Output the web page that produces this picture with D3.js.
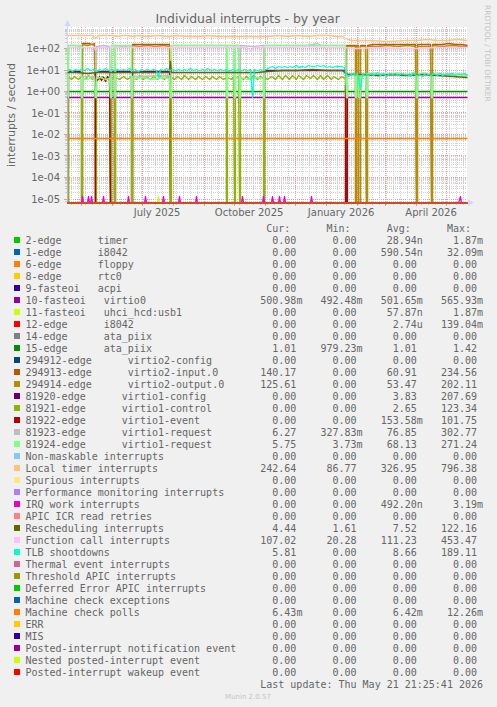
<!DOCTYPE html>
<html><head><meta charset="utf-8">
<script src="https://cdn.jsdelivr.net/npm/d3@7"></script>
<style>
html,body{margin:0;padding:0;background:#F0F0F0;}
svg{display:block;}
.mono{font-family:"DejaVu Sans Mono",monospace;font-size:10px;fill:#666;white-space:pre;}
.sans{font-family:"DejaVu Sans",sans-serif;fill:#666;}
</style></head><body>
<svg id="chart" width="497" height="707"></svg>
<script>
// ---------------- DATA ----------------
const seriesNames = [
"2-edge      timer","1-edge      i8042","6-edge      floppy","8-edge      rtc0","9-fasteoi   acpi",
"10-fasteoi   virtio0","11-fasteoi   uhci_hcd:usb1","12-edge      i8042","14-edge      ata_piix","15-edge      ata_piix",
"294912-edge      virtio2-config","294913-edge      virtio2-input.0","294914-edge      virtio2-output.0",
"81920-edge      virtio1-config","81921-edge      virtio1-control","81922-edge      virtio1-event",
"81923-edge      virtio1-request","81924-edge      virtio1-request",
"Non-maskable interrupts","Local timer interrupts","Spurious interrupts","Performance monitoring interrupts",
"IRQ work interrupts","APIC ICR read retries","Rescheduling interrupts","Function call interrupts","TLB shootdowns",
"Thermal event interrupts","Threshold APIC interrupts","Deferred Error APIC interrupts","Machine check exceptions",
"Machine check polls","ERR","MIS","Posted-interrupt notification event","Nested posted-interrupt event","Posted-interrupt wakeup event"];
const seriesColors = ["#00CC00","#0066B3","#FF8000","#FFCC00","#330099","#990099","#CCFF00","#FF0000","#808080","#008F00",
"#00487D","#B35A00","#B38F00","#6B006B","#8FB300","#B30000","#BEBEBE","#80FF80","#80C9FF","#FFC080","#FFE680","#AA80FF",
"#EE00CC","#FF8080","#666600","#FFBFFF","#00FFCC","#CC6699","#999900","#00CC00","#0066B3","#FF8000","#FFCC00","#330099",
"#990099","#CCFF00","#FF0000"];
const curValues = ["0.00","0.00","0.00","0.00","0.00","500.98m","0.00","0.00","0.00","1.01","0.00","140.17","125.61","0.00","0.00","0.00","6.27","5.75","0.00","242.64","0.00","0.00","0.00","0.00","4.44","107.02","5.81","0.00","0.00","0.00","0.00","6.43m","0.00","0.00","0.00","0.00","0.00"];
const minValues = ["0.00","0.00","0.00","0.00","0.00","492.48m","0.00","0.00","0.00","979.23m","0.00","0.00","0.00","0.00","0.00","0.00","327.83m","3.73m","0.00","86.77","0.00","0.00","0.00","0.00","1.61","20.28","0.00","0.00","0.00","0.00","0.00","0.00","0.00","0.00","0.00","0.00","0.00"];
const avgValues = ["28.94n","590.54n","0.00","0.00","0.00","501.65m","57.87n","2.74u","0.00","1.01","0.00","60.91","53.47","3.83","2.65","153.58m","76.85","68.13","0.00","326.95","0.00","0.00","492.20n","0.00","7.52","111.23","8.66","0.00","0.00","0.00","0.00","6.42m","0.00","0.00","0.00","0.00","0.00"];
const maxValues = ["1.87m","32.09m","0.00","0.00","0.00","565.93m","1.87m","139.04m","0.00","1.42","0.00","234.56","202.11","207.69","123.34","101.75","302.77","271.24","0.00","796.38","0.00","0.00","3.19m","0.00","122.16","453.47","189.11","0.00","0.00","0.00","0.00","12.26m","0.00","0.00","0.00","0.00","0.00"];

const yTickValues = [1e2,1e1,1e0,1e-1,1e-2,1e-3,1e-4,1e-5];
const yTickLabels = ["1e+02","1e+01","1e+00","1e-01","1e-02","1e-03","1e-04","1e-05"];
const xTickDates = ["2025-07-01","2025-10-01","2026-01-01","2026-04-01"];
const xTickLabels = ["July 2025","October 2025","January 2026","April 2026"];

// series points: [days since start, interrupts/second]
const zeroLine = [[0,0],[400,0]];
const virtio0Data = [[0,0.50],[400,0.50]];
const ataData = [[0,1.01],[400,1.01]];
const usbData = [[0,0],[90,0],[91,1.3e-5],[92,0],[400,0]];
const mcPolls = [[0,0.0064],[200,0.0065],[400,0.0064]];
const virtio2Input = [[0,0],[15,0],[15.1,172],[18,165],[22,168],[25,160],[27.5,166],[28,0],[65,0],[65.1,152],[70,148],[76,155],[82,150],[88,147],[94,153],[100,149],[102.5,150],[103,0],[279.5,0],[279.6,138],[284,145],[288,142],[288.5,0],[289.5,0],[289.6,140],[291.5,138],[292,0],[293,0],[293.1,142],[298.5,140],[299,0],[300,0],[300.1,145],[306,150],[312,158],[318,152],[324,150],[330,155],[336,148],[342,152],[348.5,150],[349,0],[350,0],[350.1,150],[356,148],[363.5,152],[364,0],[365,0],[365.1,158],[370,150],[376,155],[382,165],[388,158],[394,148],[400,140]];
const virtio2Output = [[0,0],[15,0],[15.1,150],[20,145],[24,148],[27.5,142],[28,0],[65,0],[65.1,135],[72,130],[80,134],[88,128],[96,132],[102.5,130],[103,0],[279.5,0],[279.6,120],[288,124],[288.5,0],[289.5,0],[289.6,122],[291.5,120],[292,0],[293,0],[293.1,122],[298.5,121],[299,0],[300,0],[300.1,126],[310,130],[320,134],[330,128],[340,132],[348.5,130],[349,0],[350,0],[350.1,128],[363.5,130],[364,0],[365,0],[365.1,132],[375,128],[385,135],[395,127],[400,125.6]];
const virtio1Config = [[0,0],[1.5,0],[1.6,8.2],[7,8.5],[14,8.3],[14.5,0],[28.5,0],[28.6,8.0],[35,8.4],[42.9,8.4],[43,0],[44,0],[44.1,8.3],[47.2,8.5],[47.5,0],[48.5,0],[48.6,8.2],[56,8.6],[64.2,8.4],[64.5,0],[65.5,0],[65.6,8.0],[80,8.5],[95,8.3],[102.5,8.4],[103,0],[197,0],[197.1,9.0],[210,9.2],[225,9.4],[240,9.6],[255,9.8],[268,9.5],[278.5,9.0],[279,0],[400,0]];
const virtio1Control = [[0,0],[1.5,0],[1.6,4.8],[4,3.6],[7,5.2],[11,3.7],[14,5.0],[14.5,0],[15.5,0],[15.6,4.6],[18,3.5],[21,5.3],[25,3.8],[27.5,4.9],[28,0],[29,0],[29.1,4.4],[32,3.6],[35,5.1],[39,3.7],[42.5,4.8],[43,0],[44,0],[44.1,4.2],[47,4.8],[47.5,0],[48.5,0],[48.6,4.5],[52,3.6],[56,5.2],[60,3.8],[64,5.0],[64.5,0],[65.5,0],[65.6,4.4],[69,3.5],[72,5.3],[76,3.7],[79,5.1],[83,3.6],[86,5.2],[90,3.8],[93,5.0],[97,3.7],[100,5.1],[102.5,4.2],[103,0],[104,0],[104.1,4.6],[107,3.6],[110,5.2],[114,3.7],[117,5.3],[121,3.8],[124,5.1],[128,3.6],[131,5.2],[135,3.7],[138,5.0],[142,3.8],[145,5.2],[149,3.6],[152,5.1],[156,3.7],[159,4.6],[159.5,0],[160.5,0],[160.6,4.5],[164,3.8],[166.5,4.9],[167,0],[168,0],[168.1,4.3],[171.5,4.8],[172,0],[173,0],[173.1,4.7],[176,3.6],[179,5.2],[183,3.7],[186,5.3],[190,3.8],[193,5.1],[196,4.0],[196.5,0],[197.5,0],[197.6,4.6],[201,3.6],[204,5.2],[208,3.7],[211,5.4],[215,3.8],[218,5.3],[222,3.6],[225,5.5],[229,3.8],[232,5.4],[236,3.7],[239,5.6],[243,3.9],[246,5.5],[250,3.8],[253,5.3],[257,3.7],[260,5.4],[264,3.8],[267,5.2],[271,3.7],[274,5.0],[278,4.0],[278.5,0],[400,0]];
const virtio1Event = [[0,0],[28,0],[28.1,4.5],[30,3.2],[32,5.0],[34,3.4],[36,4.4],[38,2.8],[40,4.8],[42,3.1],[42.9,4.0],[43,0],[278,0],[278.1,2.0],[280,2.0],[280.1,0],[400,0]];
const virtio1Request1 = [[0,128],[1,0.5],[1.6,0.5],[1.7,132],[7,135],[14.4,130],[14.5,0.5],[15.5,0.5],[15.6,5.2],[27.9,5.0],[28,0.5],[29,0.5],[29.1,128],[36,132],[42.9,130],[43,0.5],[44,0.5],[44.1,133],[47.4,131],[47.5,0.5],[48.5,0.5],[48.6,134],[56,130],[64.4,132],[64.5,0.5],[65.5,0.5],[65.6,5.0],[102.9,5.3],[103,0.5],[104,0.5],[104.1,135],[115,132],[130,137],[145,133],[159.4,135],[159.5,0.5],[160.5,0.5],[160.6,134],[166.9,132],[167,0.5],[168,0.5],[168.1,136],[171.9,134],[172,0.5],[173,0.5],[173.1,132],[185,130],[196.4,133],[196.5,0.5],[197.5,0.5],[197.6,136],[210,140],[225,138],[240,142],[250,175],[254,140],[265,138],[278.9,135],[279,0.5],[280,0.5],[280.1,6.5],[288.4,6.2],[288.5,0.5],[289.5,0.5],[289.6,6.3],[291.9,6.1],[292,0.5],[293,0.5],[293.1,6.4],[298.9,6.2],[299,0.5],[300,0.5],[300.1,6.6],[320,6.0],[348.9,6.4],[349,0.5],[350,0.5],[350.1,6.2],[363.9,6.5],[364,0.5],[365,0.5],[365.1,6.3],[380,6.0],[400,6.27]];
const virtio1Request2 = [[0,138],[1,0.5],[1.6,0.5],[1.7,142],[8,145],[14.4,140],[14.5,0.5],[15.5,0.5],[15.6,4.2],[20,3.6],[24,4.5],[27.9,3.8],[28,0.5],[29,0.5],[29.1,4.0],[33,4.6],[38,3.5],[42.9,4.2],[43,0.5],[44,0.5],[44.1,140],[47.4,138],[47.5,0.5],[48.5,0.5],[48.6,142],[56,138],[64.4,140],[64.5,0.5],[65.5,0.5],[65.6,4.1],[75,4.6],[85,3.7],[95,4.4],[102.9,4.0],[103,0.5],[104,0.5],[104.1,140],[120,136],[140,142],[159.4,138],[159.5,0.5],[160.5,0.5],[160.6,140],[166.9,139],[167,0.5],[168,0.5],[168.1,141],[171.9,138],[172,0.5],[173,0.5],[173.1,4.3],[180,3.7],[188,4.5],[196.4,3.9],[196.5,0.5],[197.5,0.5],[197.6,135],[220,138],[245,140],[265,137],[278.9,134],[279,0.5],[280,0.5],[280.1,5.5],[284,7.2],[288.4,6.0],[288.5,0.5],[289.5,0.5],[289.6,5.8],[291.9,5.6],[292,0.5],[293,0.5],[293.1,5.9],[298.9,5.7],[299,0.5],[300,0.5],[300.1,6.2],[306,7.5],[312,5.0],[318,6.8],[324,5.4],[330,7.6],[336,5.2],[342,6.9],[348.9,5.8],[349,0.5],[350,0.5],[350.1,6.0],[356,7.4],[363.9,5.4],[364,0.5],[365,0.5],[365.1,6.1],[370,7.3],[375,5.6],[380,6.8],[385,5.1],[390,7.0],[395,5.5],[400,5.75]];
const localTimer = [[0,395],[5,400],[10,398],[15,392],[20,395],[25,390],[28,300],[31,385],[35,390],[40,385],[45,388],[50,380],[55,385],[60,383],[65,380],[70,385],[80,380],[90,385],[100,378],[110,382],[120,380],[130,378],[140,382],[150,380],[160,378],[170,380],[180,375],[190,378],[200,380],[210,382],[220,378],[230,385],[240,380],[250,410],[255,395],[260,385],[270,380],[276,370],[280,250],[285,228],[300,225],[320,222],[340,228],[350,245],[360,250],[370,248],[380,245],[390,250],[400,243]];
const irqWorkSpikes = [15,21.5,24,36,61,78,96,112,129,175,196,205,212,217,244,393];
const irqWork = [[0,0]].concat(...irqWorkSpikes.map(d => [[d-1,0],[d,1.3e-5],[d+1,0]])).concat([[400,0]]);
const resched = [[0,7.5],[10,7.8],[20,7.2],[30,7.9],[40,7.4],[50,8.0],[60,7.3],[70,7.7],[80,7.5],[90,7.9],[100,7.4],[102.5,7.6],[103,24],[104,7.5],[115,7.8],[130,7.3],[145,7.7],[160,7.4],[175,7.9],[190,7.5],[200,8.5],[215,9.2],[230,10.0],[245,10.5],[260,9.6],[275,9.0],[280,6.2],[295,6.0],[310,5.8],[325,6.1],[340,5.6],[355,5.9],[370,5.5],[385,5.2],[400,4.44]];
const funcCall = [[0,110],[10,108],[20,112],[27.5,110],[28.5,82],[30,108],[45,110],[60,107],[80,111],[100,109],[120,112],[140,108],[160,110],[180,111],[184,70],[186,110],[200,113],[220,115],[240,118],[260,114],[278,112],[282,95],[290,104],[310,106],[330,103],[350,105],[370,108],[390,106],[400,107]];
const tlb = [[0,9],[2,10.5],[5,8.8],[8,11],[11,9.5],[14,10.8],[17,9.2],[20,11.2],[23,9.6],[26,10.4],[29,8.5],[32,10.8],[35,9.8],[38,11.5],[41,9.0],[44,10.6],[47,9.3],[50,11.0],[53,9.7],[56,10.5],[59,9.1],[62,11.3],[65,9.5],[68,10.2],[71,8.9],[74,10.9],[77,9.4],[80,11.1],[83,9.8],[86,10.3],[89,9.0],[91,4.5],[93,10.6],[96,9.5],[99,11.2],[102,9.3],[105,10.7],[108,9.6],[111,11.0],[114,9.2],[117,10.4],[120,9.8],[123,11.4],[126,9.4],[129,10.6],[132,9.1],[135,10.9],[138,9.7],[141,11.2],[144,9.3],[147,10.5],[150,9.9],[153,11.0],[156,9.2],[159,10.1],[162,8.8],[165,10.7],[168,9.5],[171,11.1],[174,9.6],[177,10.3],[180,9.4],[183,10.8],[185,0.5],[187,10.2],[190,9.6],[193,11.0],[196,9.3],[199,10.9],[202,12.5],[205,13.8],[208,12.2],[211,14.5],[214,13.0],[217,15.2],[220,13.4],[223,14.8],[226,12.9],[229,15.5],[232,13.6],[235,14.9],[238,13.1],[241,15.8],[244,13.9],[247,15.1],[250,16.5],[253,14.2],[256,15.6],[259,13.7],[262,14.8],[265,13.3],[268,15.0],[271,13.8],[274,14.6],[277,12.5],[279,6.0],[282,5.2],[285,6.8],[288,5.5],[290,7.0],[293,1.2],[295,6.2],[298,7.1],[301,5.4],[304,6.9],[307,5.8],[310,7.4],[313,5.6],[316,6.6],[319,5.1],[322,7.2],[325,6.0],[328,6.8],[331,5.3],[334,7.0],[337,5.9],[340,6.5],[343,5.2],[346,7.3],[349,5.7],[352,6.4],[355,5.0],[358,7.1],[361,6.1],[364,5.5],[367,6.9],[370,5.8],[373,7.2],[376,5.4],[379,6.7],[382,6.0],[385,7.0],[388,5.6],[391,6.5],[394,5.9],[397,6.8],[400,5.8]];

const seriesData = [zeroLine,zeroLine,zeroLine,zeroLine,zeroLine,virtio0Data,usbData,zeroLine,zeroLine,ataData,
  zeroLine,virtio2Input,virtio2Output,virtio1Config,virtio1Control,virtio1Event,virtio1Request1,virtio1Request2,
  zeroLine,localTimer,zeroLine,zeroLine,irqWork,zeroLine,resched,funcCall,tlb,zeroLine,zeroLine,zeroLine,zeroLine,
  mcPolls,zeroLine,zeroLine,zeroLine,zeroLine,zeroLine];

// ---------------- CHART ----------------
const START = Date.UTC(2025,3,16,21,25,41);
const END = START + 400*86400000;
const L = 67, R = 467, T = 27, B = 203;
const svg = d3.select("#chart");
svg.append("rect").attr("width",497).attr("height",707).attr("fill","#F0F0F0");
svg.append("rect").attr("x",L).attr("y",T).attr("width",R-L).attr("height",B-T).attr("fill","#FFFFFF");

const x = d3.scaleUtc().domain([new Date(START), new Date(END)]).range([L, R]);
const y = d3.scaleLog().domain([1e-5, 1e2]).range([199, 48.5]);
const dayDate = d => new Date(START + d*86400000);
const px = v => Math.floor(v) + 0.5;

// grid
const g = svg.append("g");
for (let e = -6; e <= 3; e++) {
  for (let k = 1; k <= 9; k++) {
    const v = k * Math.pow(10, e);
    const yy = y(v);
    if (yy < T + 1 || yy > B - 1) continue;
    const major = k === 1;
    g.append("line").attr("x1",L).attr("x2",R).attr("y1",px(yy)).attr("y2",px(yy))
      .attr("stroke", major ? "#E89A9A" : "#D0D0D0").attr("stroke-dasharray","1,1").attr("stroke-width",1);
    g.append("line").attr("x1", major ? 64 : 65).attr("x2",L).attr("y1",px(yy)).attr("y2",px(yy))
      .attr("stroke", major ? "#E89A9A" : "#C8C8C8");
  }
}
d3.utcMonday.range(new Date(START), new Date(END)).forEach(t => {
  const xx = px(x(t));
  g.append("line").attr("x1",xx).attr("x2",xx).attr("y1",T).attr("y2",B).attr("stroke","#D0D0D0").attr("stroke-dasharray","1,1");
  g.append("line").attr("x1",xx).attr("x2",xx).attr("y1",B).attr("y2",B+2).attr("stroke","#C8C8C8");
});
d3.utcMonth.range(new Date(START), new Date(END)).forEach(t => {
  const xx = px(x(t));
  g.append("line").attr("x1",xx).attr("x2",xx).attr("y1",T).attr("y2",B).attr("stroke","#E89A9A").attr("stroke-dasharray","1,1");
  g.append("line").attr("x1",xx).attr("x2",xx).attr("y1",B).attr("y2",B+3).attr("stroke","#E89A9A");
});

// axes
svg.append("line").attr("x1",L+0.5).attr("x2",L+0.5).attr("y1",B).attr("y2",T-4).attr("stroke","#CFD6F8");
svg.append("line").attr("x1",L).attr("x2",R+3).attr("y1",B-0.5).attr("y2",B-0.5).attr("stroke","#CFD6F8");
svg.append("path").attr("d",`M${L-2.5},${T-1} L${L+0.5},${T-7} L${L+3.5},${T-1} Z`).attr("fill","#CFD6F8");
svg.append("path").attr("d",`M${R+1},${B-3.5} L${R+7},${B-0.5} L${R+1},${B+2.5} Z`).attr("fill","#CFD6F8");

// tick labels
yTickValues.forEach((v,i) => {
  svg.append("text").attr("class","sans").attr("x",60).attr("y",y(v)+3.7).attr("text-anchor","end")
    .attr("font-size","10px").text(yTickLabels[i]);
});
xTickDates.forEach((s,i) => {
  const t = d3.utcDay.offset(new Date(s+"T00:00:00Z"), 15);
  svg.append("text").attr("class","sans").attr("x",x(t)).attr("y",215.5).attr("text-anchor","middle")
    .attr("font-size","10px").text(xTickLabels[i]);
});

// title, axis label, side text
svg.append("text").attr("class","sans").attr("x",247.7).attr("y",23).attr("text-anchor","middle")
  .attr("font-size","12.4px").text("Individual interrupts - by year");
svg.append("text").attr("class","sans").attr("transform","translate(15,115) rotate(-90)").attr("text-anchor","middle")
  .attr("font-size","11px").text("interrupts / second");
svg.append("text").attr("class","sans").attr("transform","translate(485,5) rotate(90)").attr("text-anchor","start")
  .attr("font-size","7.5px").style("fill","#C4C4C4").text("RRDTOOL / TOBI OETIKER");

// series (snapped to pixel centres like rrdtool); zero values sit on the bottom edge
svg.append("clipPath").attr("id","clip").append("rect").attr("x",L).attr("y",T).attr("width",R-L+1).attr("height",B-T+0.4);
const line = d3.line()
  .x(d => px(x(dayDate(d[0]))))
  .y(d => d[1] > 0 ? px(y(d[1])) : B + 0.2);
const lines = svg.append("g").attr("clip-path","url(#clip)");
seriesData.forEach((data,i) => {
  lines.append("path").attr("d", line(data)).attr("fill","none").attr("stroke", seriesColors[i])
    .attr("stroke-width",1.3).attr("stroke-linejoin","round");
});

// legend
const CW = 6.02, X0 = 25.5;
const colEnds = [X0+CW*45, X0+CW*55, X0+CW*65, X0+CW*75];
const headers = ["Cur:","Min:","Avg:","Max:"];
headers.forEach((h,j) => {
  svg.append("text").attr("class","mono").attr("x",colEnds[j]-CW).attr("y",228+3.5).attr("text-anchor","end").text(h);
});
const cols = [curValues, minValues, avgValues, maxValues];
seriesNames.forEach((name,i) => {
  const cy = 240 + 12*i;
  svg.append("rect").attr("x",14).attr("y",cy-3).attr("width",6).attr("height",6).attr("fill",seriesColors[i]);
  svg.append("text").attr("class","mono").attr("x",X0).attr("y",cy+3.5).text(name);
  cols.forEach((col,j) => {
    const m = col[i].match(/^([\d.]+)([a-zA-Z]?)$/);
    svg.append("text").attr("class","mono").attr("x",colEnds[j]).attr("y",cy+3.5).attr("text-anchor","end").text(m[1]);
    if (m[2]) svg.append("text").attr("class","mono").attr("x",colEnds[j]).attr("y",cy+3.5).text(m[2]);
  });
});
svg.append("text").attr("class","mono").attr("x",X0+CW*76).attr("y",240+12*37+3.5).attr("text-anchor","end")
  .text("Last update: Thu May 21 21:25:41 2026");
svg.append("text").attr("class","sans").attr("x",248).attr("y",698.5).attr("text-anchor","middle")
  .attr("font-size","7px").style("fill","#C4C4C4").text("Munin 2.0.57");
</script></body></html>
